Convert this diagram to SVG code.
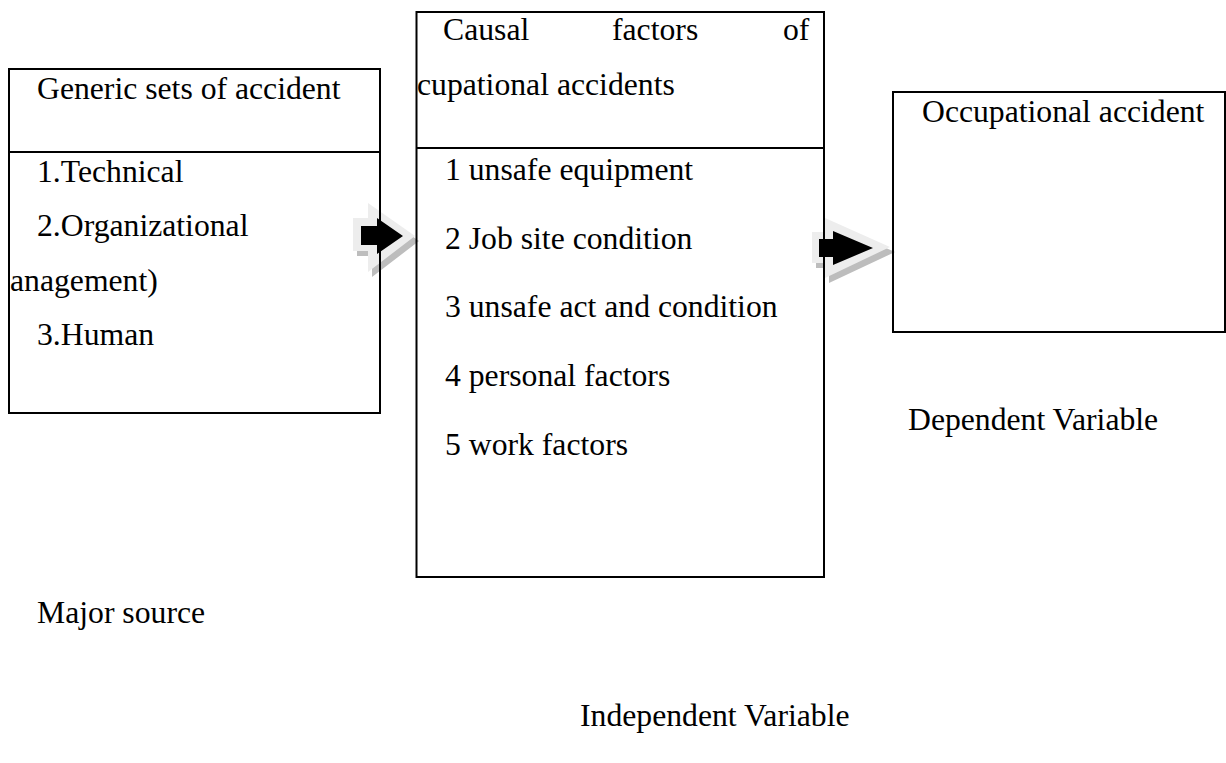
<svg xmlns="http://www.w3.org/2000/svg" width="1226" height="763" viewBox="0 0 1226 763">
<style>
.t{font-family:"Liberation Serif","Times New Roman",serif;font-size:31.7px;fill:#000}
.box{fill:none;stroke:#000;stroke-width:2}
.div{stroke:#000;stroke-width:2}
.aout{fill:#ededed}
.ashadow{fill:#bdbdbd}
.ain{fill:#000}
</style>
<rect x="0" y="0" width="1226" height="763" fill="#fff"/>
<g id="connectors">
  <g id="arrow1">
    <polygon class="ashadow" points="357,223 372,223 372,208 419,241 372,277 372,256 357,256"/>
    <polygon class="aout" points="353,218 368,218 368,203 415,236 368,272 368,251 353,251"/>
    <polygon class="ain" points="361,226 377,226 377,218 403,236 377,254 377,245 361,245"/>
  </g>
  <g id="arrow2">
    <polygon class="ashadow" points="816,237 829,237 829,223 895,252 829,283 829,268 816,268"/>
    <polygon class="aout" points="812,232 825,232 825,218 890,247 825,278 825,263 812,263"/>
    <polygon class="ain" points="819,239 833,239 833,231 873,248 833,265 833,257 819,257"/>
  </g>
</g>
<g id="node-generic">
  <rect class="box" x="9" y="69" width="371" height="344"/>
  <line class="div" x1="9" y1="152" x2="380" y2="152"/>
  <text class="t" x="37" y="99">Generic sets of accident</text>
  <text class="t" x="37" y="182">1.Technical</text>
  <text class="t" x="37" y="236">2.Organizational</text>
  <text class="t" x="10" y="291">anagement)</text>
  <text class="t" x="37" y="345">3.Human</text>
</g>
<g id="node-causal">
  <rect class="box" x="416.5" y="12" width="407.5" height="565"/>
  <line class="div" x1="416.5" y1="148" x2="824" y2="148"/>
  <text class="t" x="443" y="40">Causal</text>
  <text class="t" x="612" y="40">factors</text>
  <text class="t" x="783" y="40">of</text>
  <text class="t" x="417" y="95">cupational accidents</text>
  <text class="t" x="445" y="180">1 unsafe equipment</text>
  <text class="t" x="445" y="249">2 Job site condition</text>
  <text class="t" x="445" y="317">3 unsafe act and condition</text>
  <text class="t" x="445" y="386">4 personal factors</text>
  <text class="t" x="445" y="455">5 work factors</text>
</g>
<g id="node-occupational">
  <rect class="box" x="893" y="92" width="332" height="240"/>
  <text class="t" x="922" y="122">Occupational accident</text>
</g>
<g id="labels">
  <text class="t" x="908" y="430">Dependent Variable</text>
  <text class="t" x="37" y="623">Major source</text>
  <text class="t" x="580" y="726">Independent Variable</text>
</g>
</svg>
